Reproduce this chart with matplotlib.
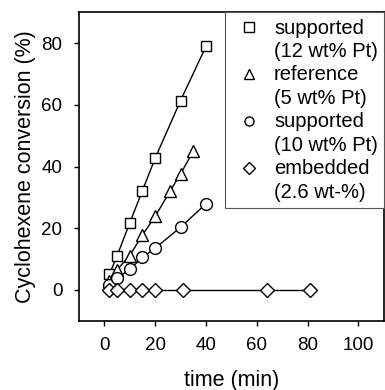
import matplotlib
matplotlib.use("Agg")
import matplotlib.pyplot as plt
from matplotlib.lines import Line2D

plt.rcParams["font.family"] = ["Liberation Sans", "DejaVu Sans"]

# Data
t_sq = [2, 5, 10, 15, 20, 30, 40]
conv_sq = [5.0, 11.0, 21.7, 32.2, 42.7, 61.4, 79.0]

t_tri = [2, 5, 10, 15, 20, 26, 30, 35]
conv_tri = [3.0, 6.5, 11.1, 17.8, 23.8, 32.2, 37.6, 45.0]

t_circ = [2, 5, 10, 15, 20, 30, 40]
conv_circ = [1.4, 3.8, 6.6, 10.5, 13.5, 20.3, 27.9]

t_dia = [2, 5, 10, 15, 20, 31, 64, 81]
conv_dia = [0, 0, 0, 0, 0, 0, 0, 0]

names = ["supported", "reference", "supported", "embedded"]
loads = ["(12 wt% Pt)", "(5 wt% Pt)", "(10 wt% Pt)", "(2.6 wt-%)"]
markers = ["s", "^", "o", "D"]
leg_ms = [6.5, 7.5, 6.5, 6]

fig = plt.figure(figsize=(3.85, 3.9), dpi=100)
ax = fig.add_axes([0.205, 0.178, 0.792, 0.79])

style = dict(color="k", lw=1.0, mfc="white", mec="k", mew=1.0)
ax.plot(t_sq, conv_sq, marker="s", ms=7.5, **style)
ax.plot(t_tri, conv_tri, marker="^", ms=8, **style)
ax.plot(t_circ, conv_circ, marker="o", ms=8.5, **style)
ax.plot(t_dia, conv_dia, marker="D", ms=7, **style)

ax.set_xlim(-10, 110)
ax.set_ylim(-10, 90)
ax.set_xticks([0, 20, 40, 60, 80, 100])
ax.set_yticks([0, 20, 40, 60, 80])
ax.tick_params(direction="out", length=3.5, width=1, pad=8.5, labelsize=13.5,
               top=False, right=False)
for s in ax.spines.values():
    s.set_linewidth(1.2)

ax.set_xlabel("time (min)", fontsize=15.5, labelpad=11)
ax.set_ylabel("Cyclohexene conversion (%)", fontsize=15.5, labelpad=4)

# legend: marker on the first line of each two-line entry
handles, labs = [], []
for m, ms, n, l in zip(markers, leg_ms, names, loads):
    handles.append(Line2D([], [], ls="none", marker=m, ms=ms,
                          mfc="white", mec="k", mew=1.0))
    labs.append(n)
    handles.append(Line2D([], [], ls="none"))
    labs.append(l)
leg = ax.legend(handles, labs, loc="upper right", bbox_to_anchor=(1.0, 1.0),
                borderaxespad=0, fontsize=14.5, frameon=True, fancybox=False,
                handlelength=1.8, handletextpad=0.35, borderpad=0.3,
                labelspacing=0.22, framealpha=1, handleheight=0.5)
leg.get_frame().set_edgecolor("#555555")
leg.get_frame().set_linewidth(0.8)

fig.savefig("out.png", dpi=100)
